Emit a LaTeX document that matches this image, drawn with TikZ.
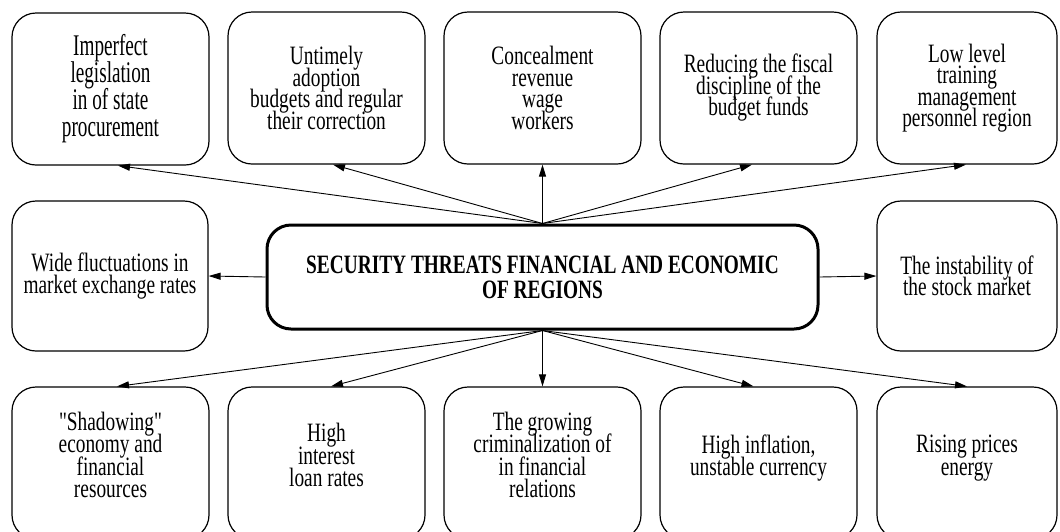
\documentclass[tikz,border=0pt]{standalone}
\usepackage{fontspec}
\setmainfont{Liberation Serif}[FakeStretch=0.73]
\newfontfamily\tallserif{Liberation Serif}[FakeStretch=0.64]
% same face without the TeX mapping, so that " stays a straight quote
\newfontfamily\straightquote{Liberation Serif}[FakeStretch=0.73]
\usetikzlibrary{arrows.meta,calc}
\newcommand\tightlines{\lineskiplimit=-\maxdimen\lineskip=0pt\relax}
\begin{document}
\begin{tikzpicture}[x=1pt,y=-1pt,
  threat/.style={draw, line width=1.2pt, rounded corners=24pt, align=center,
    inner sep=0pt, font=\fontsize{26.5}{21.5}\selectfont\tightlines},
  widebox/.style={threat, minimum width=197pt},
  edgebox/.style={threat, minimum width=180pt},
  rowbox/.style={minimum height=152pt},
  lowtext/.style={font=\fontsize{26.5}{22.5}\selectfont\tightlines, text depth=16pt},
  core/.style={draw, line width=3pt, rounded corners=24pt, align=center,
    inner sep=0pt, minimum width=551pt, minimum height=104pt,
    font=\fontsize{26.5}{25}\selectfont\bfseries\tightlines},
  link/.style={-{Triangle[length=12pt,width=7pt]}, line width=0.9pt}
]
\useasboundingbox (0,0) rectangle (1060,531);
\clip (0,0) rectangle (1060,531);

% upper row
\node[widebox, rowbox, font=\tallserif\fontsize{30}{27}\selectfont\tightlines] (t1) at (110.5,89)
  {Imperfect\\legislation\\in of state\\procurement};
\node[widebox, rowbox] (t2) at (326.5,88)
  {Untimely\\adoption\\budgets and regular\\their correction};
\node[widebox, rowbox] (t3) at (542.5,88)
  {Concealment\\revenue\\wage\\workers};
\node[widebox, rowbox] (t4) at (758.5,88)
  {Reducing the fiscal\\discipline of the\\budget funds};
\node[edgebox, rowbox] (t5) at (967,88)
  {Low level\\training\\management\\personnel region};

% middle row
\node[threat, minimum width=196pt, minimum height=150pt] (ml) at (110,276)
  {Wide fluctuations in\\market exchange rates};
\node[core] (c) at (542.5,277)
  {SECURITY THREATS FINANCIAL AND ECONOMIC\\OF REGIONS};
\node[edgebox, minimum height=150pt] (mr) at (967,276)
  {The instability of\\the stock market};

% lower row
\node[widebox, rowbox, lowtext] (b1) at (110.5,463)
  {{\straightquote"}Shadowing{\straightquote"}\\economy and\\financial\\resources};
\node[widebox, rowbox, lowtext] (b2) at (326.5,463)
  {High\\interest\\loan rates};
\node[widebox, rowbox, lowtext] (b3) at (542.5,463)
  {The growing\\criminalization of\\in financial\\relations};
\node[widebox, rowbox, lowtext] (b4) at (758.5,463)
  {High inflation,\\unstable currency};
\node[edgebox, rowbox, lowtext] (b5) at (967,463)
  {Rising prices\\energy};

% connectors from the central threat
\draw[link] (c.north) -- ($(t1.south)+(7.5,0)$);
\draw[link] (c.north) -- ($(t2.south)+(6.5,0)$);
\draw[link] (c.north) -- (t3.south);
\draw[link] (c.north) -- ($(t4.south)+(-6.5,0)$);
\draw[link] (c.north) -- ($(t5.south)+(-1,0)$);

\draw[link] (c.west) -- (ml.east);
\draw[link] (c.east) -- (mr.west);

\draw[link] (c.south) -- ($(b1.north)+(6.5,0)$);
\draw[link] (c.south) -- ($(b2.north)+(4.5,0)$);
\draw[link] (c.south) -- (b3.north);
\draw[link] (c.south) -- ($(b4.north)+(-5,0)$);
\draw[link] (c.south) -- (b5.north);
\end{tikzpicture}
\end{document}
